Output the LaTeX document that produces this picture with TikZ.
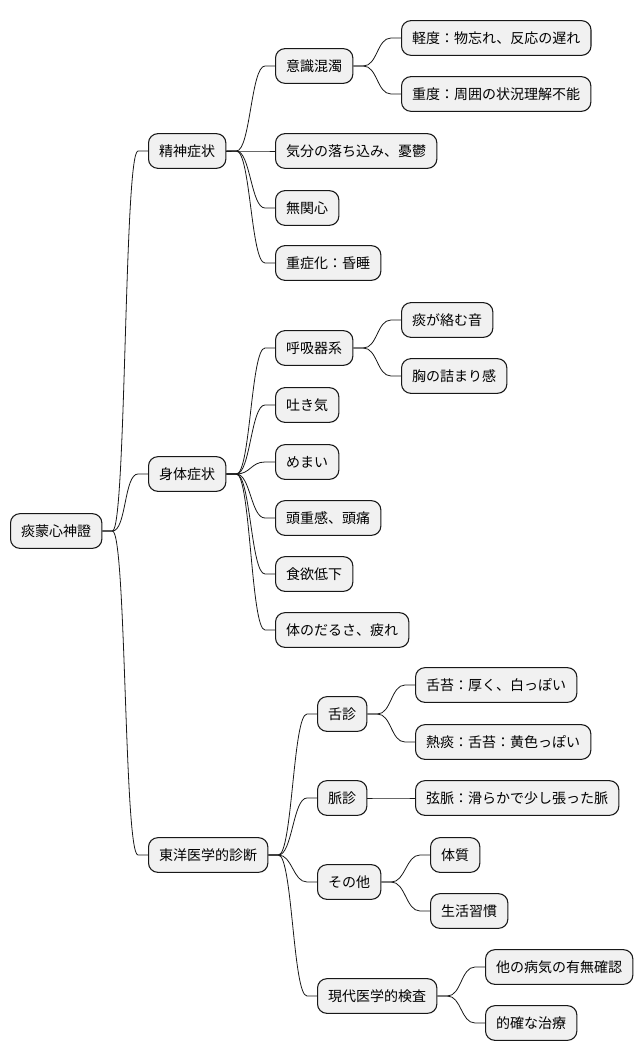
\documentclass[tikz,border=0pt]{standalone}
\usepackage{fontspec}
\setmainfont{Noto Sans CJK JP}
\usetikzlibrary{calc}
\definecolor{NodeFill}{HTML}{F1F1F1}
\definecolor{NodeLine}{HTML}{181818}
\tikzset{
  mm/.style={fill=NodeFill, draw=NodeLine, line width=0.8pt, rounded corners=7pt,
             anchor=west, minimum height=26pt, inner xsep=8pt, inner ysep=0pt,
             font=\fontsize{10.5}{12}\selectfont},
  link/.style={draw=NodeLine, line width=0.6pt}
}
% parent -> child, short straight ends and a bezier between
\newcommand{\mmlink}[2]{%
  \draw[link] (#1.east) -- ++(10,0)
    .. controls ($(#1.east)+(24,0)$) and ($(#2.west)+(-24,0)$) ..
    ($(#2.west)+(-10,0)$) -- (#2.west);}

\begin{document}
\begin{tikzpicture}[x=0.75pt, y=-0.75pt]
  \useasboundingbox (0,0) rectangle (642,1062);
  % root
  \node[mm] (root) at (10,531) {痰蒙心神證};
  % first level
  \node[mm] (s1) at (148,151) {精神症状};
  \node[mm] (s2) at (148,474) {身体症状};
  \node[mm] (s3) at (148,855) {東洋医学的診断};
  % 精神症状
  \node[mm] (s11) at (275,66)  {意識混濁};
  \node[mm] (s111) at (401,38) {軽度：物忘れ、反応の遅れ};
  \node[mm] (s112) at (401,94) {重度：周囲の状況理解不能};
  \node[mm] (s12) at (275,151) {気分の落ち込み、憂鬱};
  \node[mm] (s13) at (275,208) {無関心};
  \node[mm] (s14) at (275,263) {重症化：昏睡};
  % 身体症状
  \node[mm] (s21) at (275,348) {呼吸器系};
  \node[mm] (s211) at (401,320) {痰が絡む音};
  \node[mm] (s212) at (401,376) {胸の詰まり感};
  \node[mm] (s22) at (275,405) {吐き気};
  \node[mm] (s23) at (275,462) {めまい};
  \node[mm] (s24) at (275,518) {頭重感、頭痛};
  \node[mm] (s25) at (275,574) {食欲低下};
  \node[mm] (s26) at (275,630) {体のだるさ、疲れ};
  % 東洋医学的診断
  \node[mm] (s31) at (317,714) {舌診};
  \node[mm] (s311) at (415,685) {舌苔：厚く、白っぽい};
  \node[mm] (s312) at (415,742) {熱痰：舌苔：黄色っぽい};
  \node[mm] (s32) at (317,798) {脈診};
  \node[mm] (s321) at (415,798) {弦脈：滑らかで少し張った脈};
  \node[mm] (s33) at (317,882) {その他};
  \node[mm] (s331) at (430,855) {体質};
  \node[mm] (s332) at (430,911) {生活習慣};
  \node[mm] (s34) at (317,996) {現代医学的検査};
  \node[mm] (s341) at (485,967) {他の病気の有無確認};
  \node[mm] (s342) at (485,1023) {的確な治療};
  % links
  \mmlink{root}{s1} \mmlink{root}{s2} \mmlink{root}{s3}
  \mmlink{s1}{s11} \mmlink{s1}{s12} \mmlink{s1}{s13} \mmlink{s1}{s14}
  \mmlink{s11}{s111} \mmlink{s11}{s112}
  \mmlink{s2}{s21} \mmlink{s2}{s22} \mmlink{s2}{s23}
  \mmlink{s2}{s24} \mmlink{s2}{s25} \mmlink{s2}{s26}
  \mmlink{s21}{s211} \mmlink{s21}{s212}
  \mmlink{s3}{s31} \mmlink{s3}{s32} \mmlink{s3}{s33} \mmlink{s3}{s34}
  \mmlink{s31}{s311} \mmlink{s31}{s312}
  \mmlink{s32}{s321}
  \mmlink{s33}{s331} \mmlink{s33}{s332}
  \mmlink{s34}{s341} \mmlink{s34}{s342}
\end{tikzpicture}
\end{document}
